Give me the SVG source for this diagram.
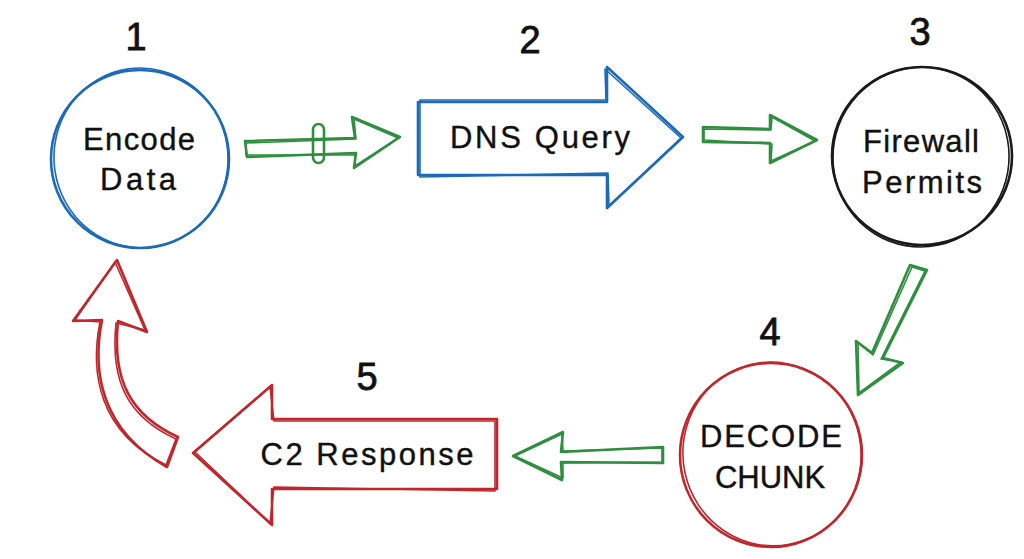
<svg xmlns="http://www.w3.org/2000/svg" xmlns:xlink="http://www.w3.org/1999/xlink" width="1024" height="559" viewBox="0 0 1024 559">
  <style>
    .blue { stroke: #1c6ab8; }
    .green { stroke: #2f8f3f; }
    .red { stroke: #c0272d; }
    .black { stroke: #1a1a1a; }
    .sk { fill: none; stroke-width: 2.6; stroke-linejoin: round; stroke-linecap: round; }
    .sk2 { fill: none; stroke-width: 1.6; stroke-linejoin: round; stroke-linecap: round; }
    .lbl { font-family: "Liberation Sans", "DejaVu Sans", sans-serif; font-size: 31px; fill: #111; stroke: #111; stroke-width: 0.4; text-anchor: middle; }
    .num { font-family: "Liberation Sans", "DejaVu Sans", sans-serif; font-size: 38px; fill: #111; stroke: #111; stroke-width: 0.8; text-anchor: middle; }
  </style>
  <rect width="1024" height="559" fill="#ffffff"/>

  <!-- Connectors -->
  <g id="connectors">
    <g id="c1">
      <path class="sk green" d="M245,141 L355,138 L352,117 L400,137 L354,168 L356,153 L247,157 Z" fill="#fff"/>
      <path class="sk2 green" d="M246,143 L356,139 L354,119 L398,138 L355,166 L355,155 L246,155 Z"/>
      <rect class="sk green" x="313" y="124" width="11" height="39" rx="5.5" fill="#fff"/>
    </g>
    <g id="c2">
      <path class="sk green" d="M703,127 L770,129 L770,115 L817,140 L770,163 L770,143 L703,142 Z" fill="#fff"/>
      <path class="sk2 green" d="M704,129 L771,130 L772,117 L815,141 L771,161 L772,144 L704,140 Z"/>
    </g>
    <g id="c3">
      <path class="sk green" d="M910,265 L927,270 L883,358 L903,363 L858,395 L856,341 L872,353 Z" fill="#fff"/>
      <path class="sk2 green" d="M912,267 L925,271 L881,359 L901,362 L859,393 L858,343 L873,355 Z"/>
    </g>
    <g id="c4">
      <path class="sk green" d="M663,447 L663,463 L561,462 L562,480 L513,456 L563,432 L561,452 Z" fill="#fff"/>
      <path class="sk2 green" d="M662,448 L662,462 L563,463 L563,478 L515,456 L562,434 L563,451 Z"/>
    </g>
    <g id="c5">
      <path class="sk red" d="M117,260 L147,332 L118,321 C112,380 130,415 178,437 L167,467 C100,430 92,370 102,320 L73,321 Z" fill="#fff"/>
      <path class="sk2 red" d="M115,262 L145,330 L116,323 C110,382 128,417 176,439 L166,465 C98,432 90,372 100,322 L75,320 Z"/>
    </g>
  </g>

  <!-- Node 1 -->
  <g id="node1">
    <ellipse class="sk blue" cx="140" cy="159" rx="89" ry="89" fill="#fff"/>
    <ellipse class="sk2 blue" cx="141" cy="158" rx="87" ry="90" transform="rotate(-8 141 158)"/>
    <text class="num" x="136" y="50">1</text>
    <text class="lbl" x="139" y="150" textLength="112">Encode</text>
    <text class="lbl" x="138" y="190" textLength="76">Data</text>
  </g>

  <!-- Node 2 -->
  <g id="node2">
    <path class="sk blue" d="M418,102 L607,102 L607,67 L683,137 L607,208 L607,175 L418,175 Z" fill="#fff"/>
    <path class="sk2 blue" d="M420,100 L606,100 L605,69 L681,138 L609,206 L608,173 L420,177 Z"/>
    <text class="num" x="530" y="53">2</text>
    <text class="lbl" x="540" y="148" textLength="180">DNS Query</text>
  </g>

  <!-- Node 3 -->
  <g id="node3">
    <ellipse class="sk black" cx="922" cy="156" rx="90" ry="89" fill="#fff"/>
    <ellipse class="sk2 black" cx="921" cy="157" rx="88" ry="90" transform="rotate(10 921 157)"/>
    <text class="num" x="920" y="45">3</text>
    <text class="lbl" x="921" y="152" textLength="116">Firewall</text>
    <text class="lbl" x="922" y="193" textLength="120">Permits</text>
  </g>

  <!-- Node 4 -->
  <g id="node4">
    <ellipse class="sk red" cx="771" cy="455" rx="91" ry="92" fill="#fff"/>
    <ellipse class="sk2 red" cx="772" cy="454" rx="89" ry="92" transform="rotate(-12 772 454)"/>
    <text class="num" x="770" y="345">4</text>
    <text class="lbl" x="771" y="447" textLength="142">DECODE</text>
    <text class="lbl" x="770" y="488">CHUNK</text>
  </g>

  <!-- Node 5 -->
  <g id="node5">
    <path class="sk red" d="M497,419 L272,419 L272,385 L193,453 L272,525 L272,489 L497,489 Z" fill="#fff"/>
    <path class="sk2 red" d="M495,421 L274,421 L270,387 L195,452 L270,523 L274,487 L495,491 Z"/>
    <text class="num" x="367" y="390">5</text>
    <text class="lbl" x="367" y="465" textLength="213">C2 Response</text>
  </g>
</svg>
